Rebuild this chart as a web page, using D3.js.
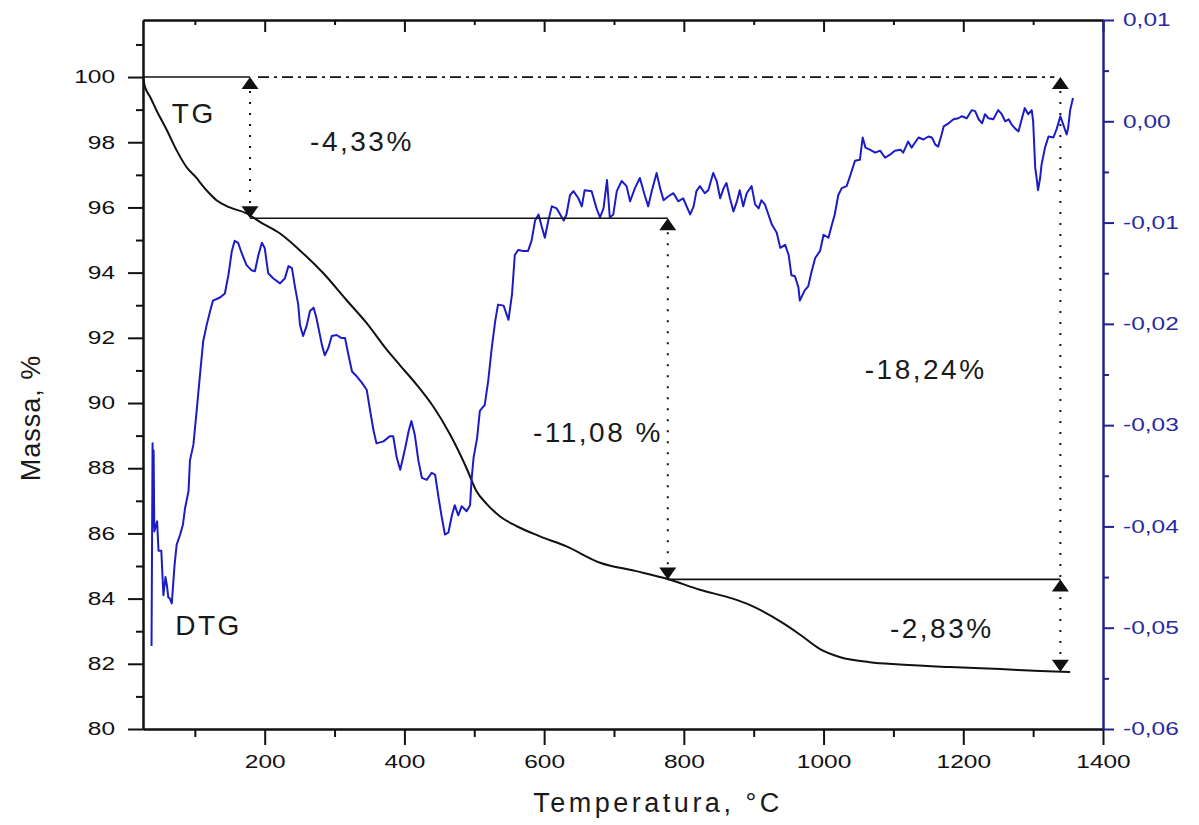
<!DOCTYPE html>
<html>
<head>
<meta charset="utf-8">
<script src="https://cdn.jsdelivr.net/npm/d3@7"></script>
<style>
  body { margin: 0; background: #fff; }
  svg { display: block; font-family: "Liberation Sans", Arial, sans-serif; }
</style>
</head>
<body>
<svg id="chart" width="1199" height="825"></svg>
<script>
// TG curve (mass, %)
const tgTemp = [26, 28, 30, 36, 45, 60, 74, 88, 103, 107, 120, 131, 150, 174, 193, 222, 250, 284, 317, 346, 375, 394, 418, 441, 465, 489, 503, 518, 537, 561, 594, 632, 680, 730, 777, 823, 870, 895, 938, 966, 995, 1024, 1066, 1109, 1181, 1253, 1310, 1353];
const tgMass = [100.0, 99.75, 99.62, 99.39, 98.98, 98.37, 97.75, 97.24, 96.89, 96.78, 96.45, 96.22, 96.0, 95.82, 95.56, 95.2, 94.69, 93.98, 93.16, 92.45, 91.63, 91.15, 90.55, 89.9, 89.05, 88.0, 87.3, 86.9, 86.52, 86.22, 85.91, 85.6, 85.1, 84.85, 84.6, 84.27, 84.0, 83.8, 83.3, 82.9, 82.45, 82.2, 82.05, 81.98, 81.9, 81.84, 81.78, 81.75];

// DTG curve
const dtgTemp = [38, 39.5, 40.5, 41, 42, 44, 46, 48, 52, 55, 58, 60, 62, 64, 67, 71, 74, 79, 83, 86, 91, 93, 98, 103, 107, 112, 117, 122, 126, 136, 143, 148, 153, 157, 162, 167, 174, 181, 186, 191, 196, 200, 205, 212, 222, 229, 234, 239, 243, 248, 250.5, 255, 260, 265, 270, 274, 282, 286, 291, 296, 303, 310, 315, 320, 325, 332, 339, 346, 351, 356, 360, 370, 379, 384, 389, 394, 401, 406, 410, 415, 420, 425, 432, 439, 444, 449, 453, 458, 463, 468, 472, 477, 482, 489, 494, 496, 499, 504, 508, 515, 520, 525, 530, 534, 542, 549, 554, 558, 563, 570, 577, 582, 587, 592, 597, 601, 606, 611, 618, 623, 628, 632, 637, 642, 649, 654, 658, 668, 675, 680, 685, 690, 694, 699, 704, 711, 718, 723, 730, 737, 744, 749, 754, 761, 766, 771, 778, 785, 792, 799, 804, 809, 814, 818, 823, 830, 835, 842, 847, 852, 857, 861, 866, 871, 876, 880, 885, 890, 897, 902, 907, 911, 916, 921, 926, 933, 938, 945, 950, 954, 959, 964, 966, 973, 978, 983, 988, 995, 1000, 1007, 1012, 1016, 1021, 1026, 1033, 1038, 1045, 1052, 1056, 1060, 1066, 1074, 1081, 1088, 1095, 1102, 1110, 1114, 1121, 1126, 1131, 1136, 1143, 1150, 1155, 1160, 1164, 1169, 1172, 1179, 1186, 1193, 1198, 1205, 1212, 1217, 1222, 1227, 1231, 1236, 1243, 1250, 1255, 1260, 1265, 1269, 1274, 1279, 1284, 1288, 1293, 1298, 1300, 1303, 1305, 1307, 1310, 1312, 1317, 1322, 1329, 1334, 1339, 1343, 1348, 1350, 1353, 1357];
const dtgRate = [-0.0518, -0.0318, -0.0400, -0.0325, -0.0405, -0.0400, -0.0395, -0.0424, -0.0424, -0.0468, -0.0450, -0.0458, -0.0470, -0.0471, -0.0476, -0.0438, -0.0418, -0.0408, -0.0398, -0.0382, -0.0365, -0.0335, -0.0319, -0.0283, -0.0253, -0.0217, -0.0201, -0.0187, -0.0177, -0.0174, -0.0170, -0.0152, -0.0128, -0.0118, -0.0120, -0.0130, -0.0142, -0.0147, -0.0148, -0.0132, -0.0120, -0.0125, -0.0150, -0.0155, -0.0160, -0.0155, -0.0143, -0.0145, -0.0162, -0.0181, -0.0201, -0.0212, -0.0202, -0.0187, -0.0184, -0.0194, -0.0221, -0.0231, -0.0224, -0.0212, -0.0211, -0.0214, -0.0214, -0.0231, -0.0247, -0.0252, -0.0258, -0.0265, -0.0286, -0.0306, -0.0318, -0.0316, -0.0311, -0.0311, -0.0332, -0.0344, -0.0323, -0.0306, -0.0296, -0.0310, -0.0335, -0.0352, -0.0354, -0.0347, -0.0349, -0.0372, -0.0389, -0.0408, -0.0406, -0.0389, -0.0379, -0.0389, -0.0380, -0.0385, -0.0379, -0.0355, -0.0332, -0.0313, -0.0286, -0.0280, -0.0256, -0.0224, -0.0197, -0.0181, -0.0182, -0.0196, -0.0171, -0.0132, -0.0127, -0.0128, -0.0128, -0.0118, -0.0098, -0.0092, -0.0105, -0.0115, -0.0098, -0.0084, -0.0086, -0.0092, -0.0098, -0.0092, -0.0073, -0.0069, -0.0076, -0.0084, -0.0068, -0.0069, -0.0086, -0.0095, -0.0086, -0.0058, -0.0095, -0.0092, -0.0069, -0.0059, -0.0064, -0.0079, -0.0066, -0.0056, -0.0073, -0.0084, -0.0069, -0.0051, -0.0066, -0.0078, -0.0074, -0.0071, -0.0079, -0.0076, -0.0084, -0.0092, -0.0084, -0.0069, -0.0064, -0.0071, -0.0068, -0.0051, -0.0059, -0.0076, -0.0066, -0.0061, -0.0076, -0.0089, -0.0079, -0.0068, -0.0084, -0.0071, -0.0064, -0.0082, -0.0086, -0.0078, -0.0082, -0.0092, -0.0102, -0.0110, -0.0125, -0.0122, -0.0132, -0.0152, -0.0153, -0.0164, -0.0177, -0.0167, -0.0163, -0.0148, -0.0135, -0.0128, -0.0112, -0.0115, -0.0102, -0.0092, -0.0073, -0.0066, -0.0064, -0.0054, -0.0039, -0.0038, -0.0016, -0.0026, -0.0028, -0.0031, -0.0029, -0.0036, -0.0033, -0.0029, -0.0028, -0.0031, -0.0020, -0.0026, -0.0021, -0.0016, -0.0018, -0.0015, -0.0016, -0.0023, -0.0025, -0.0013, -0.0005, -0.0002, 0.0002, 0.0003, 0.0005, 0.0003, 0.0011, 0.0010, 0.0002, -0.0002, 0.0007, 0.0003, 0.0002, 0.0011, 0.0007, 0.0000, 0.0002, -0.0003, -0.0007, -0.0010, 0.0003, 0.0013, 0.0007, 0.0011, 0.0000, -0.0046, -0.0056, -0.0068, -0.0056, -0.0043, -0.0026, -0.0015, -0.0016, -0.0007, 0.0005, -0.0003, -0.0013, -0.0007, 0.0011, 0.0023];

// axis ticks
const tempTicks = [200, 400, 600, 800, 1000, 1200, 1400];
const tempMinor = [100, 300, 500, 700, 900, 1100, 1300];
const massTicks = [80, 82, 84, 86, 88, 90, 92, 94, 96, 98, 100];
const massMinor = [81, 83, 85, 87, 89, 91, 93, 95, 97, 99, 101];
const rateTicks = [-0.06, -0.05, -0.04, -0.03, -0.02, -0.01, 0, 0.01];
const rateMinor = [-0.055, -0.045, -0.035, -0.025, -0.015, -0.005, 0.005];

// mass-loss steps
const stepTemps = [179, 777, 1339];
const stepLevels = [100, 95.67, 84.59, 81.76];
const noteText = ["-4,33%", "-11,08 %", "-18,24%", "-2,83%", "TG", "DTG"];
const noteTemp = [265, 584, 1059, 1095, 67, 72];
const noteMass = [97.73, 88.8, 90.74, 82.79, 98.59, 82.88];

const pLeft = 143, pRight = 1103, pTop = 20, pBottom = 729;
const blue = "#1c1cc6", axisBlue = "#22228f";

const svg = d3.select("#chart");

const x = d3.scaleLinear().domain([25.8, 1400]).range([pLeft, pRight]);
const yL = d3.scaleLinear().domain([80, 101.75]).range([pBottom, pTop]);
const yR = d3.scaleLinear().domain([-0.06, 0.01]).range([pBottom, pTop]);

const comma = d3.formatLocale({decimal: ",", thousands: " ", grouping: [3], currency: ["", ""], minus: "-"});
const rateFmt = comma.format(".2f");

// stretch text horizontally like the original export
function widen(sel, k) {
  sel.each(function () {
    const t = d3.select(this);
    const tx = +t.attr("x") || 0;
    t.attr("x", tx / k).attr("transform", "scale(" + k + ",1)");
  });
}

function styleAxis(g, color) {
  g.attr("color", color).attr("font-size", 18)
    .attr("font-family", "'Liberation Sans', Arial, sans-serif");
  g.selectAll(".domain").attr("stroke-width", 2);
  g.selectAll(".tick line").attr("stroke-width", 2);
}

// curves
const tgLine = d3.line().curve(d3.curveMonotoneX).x((d, i) => x(tgTemp[i])).y(d => yL(d));
svg.append("path").attr("d", tgLine(tgMass))
  .attr("fill", "none").attr("stroke", "#111").attr("stroke-width", 2);

const dtgLine = d3.line().x((d, i) => x(dtgTemp[i])).y(d => yR(d));
svg.append("path").attr("d", dtgLine(dtgRate))
  .attr("fill", "none").attr("stroke", blue).attr("stroke-width", 2)
  .attr("stroke-linejoin", "round");

// step annotations
const ann = svg.append("g").attr("stroke", "#111").attr("fill", "none");
const t0 = x.domain()[0];
ann.append("line").attr("x1", x(t0)).attr("x2", x(stepTemps[0]))
  .attr("y1", yL(stepLevels[0])).attr("y2", yL(stepLevels[0])).attr("stroke-width", 1.6);
ann.append("line").attr("x1", x(stepTemps[0]) + 8).attr("x2", x(stepTemps[2]) - 6)
  .attr("y1", yL(stepLevels[0])).attr("y2", yL(stepLevels[0]))
  .attr("stroke-width", 1.8).attr("stroke-dasharray", "11,5,3,5");
for (let i = 0; i < 2; i++) {
  ann.append("line").attr("x1", x(stepTemps[i])).attr("x2", x(stepTemps[i + 1]))
    .attr("y1", yL(stepLevels[i + 1])).attr("y2", yL(stepLevels[i + 1])).attr("stroke-width", 1.6);
}
// dotted verticals
const vert = [[stepTemps[0], stepLevels[0], stepLevels[1]], [stepTemps[1], stepLevels[1], stepLevels[2]], [stepTemps[2], stepLevels[0], stepLevels[3]]];
vert.forEach(v => {
  ann.append("line").attr("x1", x(v[0])).attr("x2", x(v[0]))
    .attr("y1", yL(v[1]) + 14).attr("y2", yL(v[2]) - 13)
    .attr("stroke-width", 2).attr("stroke-dasharray", "2,9");
});

// triangles: apex on the level line
const upTri = "M0,0L8.5,12L-8.5,12Z", downTri = "M0,0L8.5,-12L-8.5,-12Z";
const ups = [[stepTemps[0], stepLevels[0]], [stepTemps[2], stepLevels[0]], [stepTemps[1], stepLevels[1]], [stepTemps[2], stepLevels[2]]];
const downs = [[stepTemps[0], stepLevels[1]], [stepTemps[1], stepLevels[2]], [stepTemps[2], stepLevels[3]]];
svg.selectAll("path.up").data(ups).enter().append("path").attr("class", "up")
  .attr("d", upTri).attr("fill", "#111")
  .attr("transform", d => "translate(" + x(d[0]) + "," + yL(d[1]) + ")");
svg.selectAll("path.down").data(downs).enter().append("path").attr("class", "down")
  .attr("d", downTri).attr("fill", "#111")
  .attr("transform", d => "translate(" + x(d[0]) + "," + yL(d[1]) + ")");

// notes
svg.selectAll("text.note").data(noteText).enter().append("text").attr("class", "note")
  .attr("x", (d, i) => x(noteTemp[i])).attr("y", (d, i) => yL(noteMass[i]))
  .attr("font-size", 28).attr("letter-spacing", 2.5).attr("fill", "#1a1a1a")
  .text(d => d);

// axes
const k = 1.36;
const gB = svg.append("g").attr("transform", "translate(0," + pBottom + ")")
  .call(d3.axisBottom(x).tickValues(tempTicks).tickSize(16).tickPadding(10).tickSizeOuter(0).tickFormat(d3.format("d")));
styleAxis(gB, "#111");
widen(gB.selectAll("text"), k);
const gBm = svg.append("g").attr("transform", "translate(0," + pBottom + ")")
  .call(d3.axisBottom(x).tickValues(tempMinor).tickSize(8).tickSizeOuter(0).tickFormat(""));
styleAxis(gBm, "#111");

const gT = svg.append("g").attr("transform", "translate(0," + pTop + ")")
  .call(d3.axisTop(x).tickValues(tempTicks).tickSize(-12).tickSizeOuter(0).tickFormat(""));
styleAxis(gT, "#111");
const gTm = svg.append("g").attr("transform", "translate(0," + pTop + ")")
  .call(d3.axisTop(x).tickValues(tempMinor).tickSize(-5).tickSizeOuter(0).tickFormat(""));
styleAxis(gTm, "#111");

const gL = svg.append("g").attr("transform", "translate(" + pLeft + ",0)")
  .call(d3.axisLeft(yL).tickValues(massTicks).tickSize(15).tickPadding(13).tickSizeOuter(0).tickFormat(d3.format("d")));
styleAxis(gL, "#111");
widen(gL.selectAll("text"), k);
const gLm = svg.append("g").attr("transform", "translate(" + pLeft + ",0)")
  .call(d3.axisLeft(yL).tickValues(massMinor).tickSize(7).tickSizeOuter(0).tickFormat(""));
styleAxis(gLm, "#111");

const gR = svg.append("g").attr("transform", "translate(" + pRight + ",0)")
  .call(d3.axisRight(yR).tickValues(rateTicks).tickSize(11).tickPadding(9).tickSizeOuter(0).tickFormat(rateFmt));
styleAxis(gR, axisBlue);
gR.selectAll("text").attr("fill", "#2a2aa0");
widen(gR.selectAll("text"), k);
const gRm = svg.append("g").attr("transform", "translate(" + pRight + ",0)")
  .call(d3.axisRight(yR).tickValues(rateMinor).tickSize(6).tickSizeOuter(0).tickFormat(""));
styleAxis(gRm, axisBlue);

// axis titles
svg.append("text").attr("x", (pLeft + pRight) / 2 + 35).attr("y", 812)
  .attr("text-anchor", "middle").attr("font-size", 27).attr("letter-spacing", 3.5)
  .attr("fill", "#1a1a1a").text("Temperatura, °C");
svg.append("text").attr("transform", "translate(40,418) rotate(-90)")
  .attr("text-anchor", "middle").attr("font-size", 27).attr("letter-spacing", 1)
  .attr("fill", "#1a1a1a").text("Massa, %");
</script>
</body>
</html>
